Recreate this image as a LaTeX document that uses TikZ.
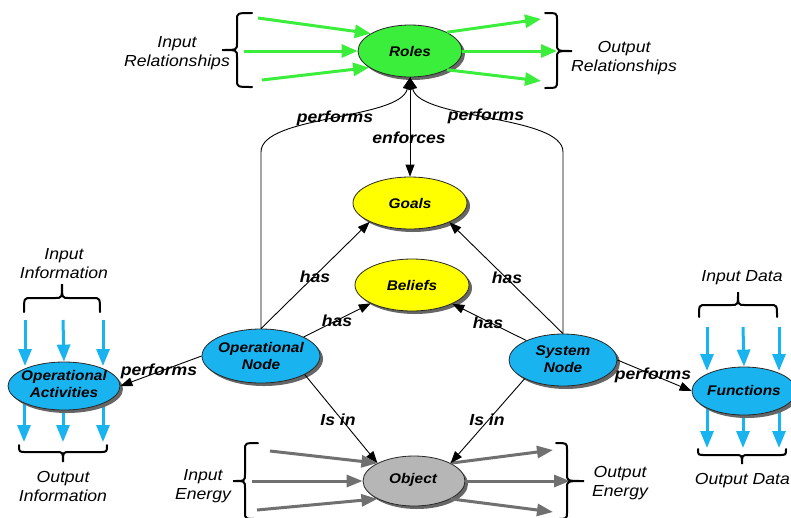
\documentclass[tikz,border=0pt]{standalone}
\usepackage{fontspec}
\setmainfont{Liberation Sans}[FakeStretch=1.1]
\usetikzlibrary{shapes.geometric,arrows.meta,shadows}

\definecolor{rolegreen}{RGB}{60,238,60}
\definecolor{goalyellow}{RGB}{255,255,0}
\definecolor{nodeblue}{RGB}{25,180,240}
\definecolor{flowblue}{RGB}{25,180,240}
\definecolor{objgray}{RGB}{182,182,182}
\definecolor{flowgray}{RGB}{112,112,112}
\definecolor{rim}{RGB}{40,40,40}

% vertical curly brace: x of the ends, x of the spine, x of the tip, y top, y middle, y bottom
\newcommand\CurlyV[6]{%
  \draw[bracestroke] (#1,#4) .. controls (#2,#4) .. (#2,{#4+7}) -- (#2,{#5-7})
    .. controls (#2,#5) .. (#3,#5) .. controls (#2,#5) .. (#2,{#5+7})
    -- (#2,{#6-7}) .. controls (#2,#6) .. (#1,#6);}
% horizontal curly brace: y of the ends, y of the spine, y of the tip, x left, x middle, x right
\newcommand\CurlyH[6]{%
  \draw[bracestroke] (#4,#1) .. controls (#4,#2) .. ({#4+7},#2) -- ({#5-7},#2)
    .. controls (#5,#2) .. (#5,#3) .. controls (#5,#2) .. ({#5+7},#2)
    -- ({#6-7},#2) .. controls (#6,#2) .. (#6,#1);}

\tikzset{
  bubble/.style={ellipse, draw=rim, line width=0.8pt, inner sep=0pt,
    drop shadow={shadow xshift=3pt, shadow yshift=-3pt, fill=black!60, opacity=1}},
  nodetext/.style={font=\fontsize{14}{17}\selectfont\bfseries\itshape, align=center, inner sep=0pt},
  edgetext/.style={font=\fontsize{16}{19}\selectfont\bfseries\itshape, inner sep=0pt},
  bracetext/.style={font=\fontsize{16}{19}\selectfont\itshape, align=center, inner sep=0pt},
  bracestroke/.style={draw=black, line width=2pt, line cap=round},
  link/.style={draw=black, line width=0.9pt, -{Triangle[length=12pt,width=9pt]}},
  greenflow/.style={draw=rolegreen, line width=3pt, -{Triangle[length=16pt,width=13pt]}},
  blueflow/.style={draw=flowblue, line width=3pt, -{Triangle[length=17pt,width=13pt]}},
  grayflow/.style={draw=flowgray, line width=3pt, -{Triangle[length=16pt,width=12pt]}},
}

\begin{document}
\begin{tikzpicture}[x=1pt, y=-1pt]
\fill[white] (0,0) rectangle (791,517);
\useasboundingbox (0,0) rectangle (791,517);

% free ends of the flow arrows
\coordinate (gi1) at (258,18);  \coordinate (gi2) at (244,51);  \coordinate (gi3) at (262,80);
\coordinate (go1) at (541,19);  \coordinate (go2) at (557,51);  \coordinate (go3) at (541,81);
\coordinate (ei1) at (270,451); \coordinate (ei2) at (252,481); \coordinate (ei3) at (257,510);
\coordinate (eo1) at (553,450); \coordinate (eo2) at (570,481); \coordinate (eo3) at (553,512);
\coordinate (ai1) at (25,320);  \coordinate (ai2) at (63,320);  \coordinate (ai3) at (103,320);
\coordinate (at1) at (25,366);  \coordinate (at3) at (103,366);
\coordinate (ao1) at (24,442);  \coordinate (ao2) at (63,442);  \coordinate (ao3) at (103,442);
\coordinate (fi1) at (707,327); \coordinate (fi2) at (743,327); \coordinate (fi3) at (779,327);
\coordinate (ft1) at (707,371); \coordinate (ft3) at (779,371);
\coordinate (fo1) at (707,448); \coordinate (fo2) at (743,448); \coordinate (fo3) at (779,448);

% outgoing flows that emerge from beneath the ellipses
\draw[blueflow] (ao1 |- 0,396) -- (ao1);
\draw[blueflow] (ao2 |- 0,396) -- (ao2);
\draw[blueflow] (ao3 |- 0,396) -- (ao3);
\draw[blueflow] (fo1 |- 0,400) -- (fo1);
\draw[blueflow] (fo2 |- 0,400) -- (fo2);
\draw[blueflow] (fo3 |- 0,400) -- (fo3);

% concept ellipses
\node[bubble, fill=rolegreen,  minimum width=104pt, minimum height=52pt] (roles)   at (410,51)  {};
\node[bubble, fill=goalyellow, minimum width=114pt, minimum height=52pt] (goals)   at (410,203) {};
\node[bubble, fill=goalyellow, minimum width=114pt, minimum height=52pt] (beliefs) at (412,285) {};
\node[bubble, fill=nodeblue,   minimum width=118pt, minimum height=54pt] (opnode)  at (261,356) {};
\node[bubble, fill=nodeblue,   minimum width=108pt, minimum height=52pt] (sysnode) at (563,360) {};
\node[bubble, fill=nodeblue,   minimum width=112pt, minimum height=48pt] (opact)   at (64,386)  {};
\node[bubble, fill=nodeblue,   minimum width=104pt, minimum height=48pt] (func)    at (744,391) {};
\node[bubble, fill=objgray,    minimum width=102pt, minimum height=50pt] (object)  at (414,481) {};

\node[nodetext] (rolesT)   at (roles)   {Roles};
\node[nodetext] (goalsT)   at (goals)   {Goals};
\node[nodetext] (beliefsT) at (beliefs) {Beliefs};
\node[nodetext] (opnodeT)  at (opnode)  {Operational\\Node};
\node[nodetext] (sysnodeT) at (563,359) {System\\Node};
\node[nodetext] (opactT)   at (64,384)  {Operational\\Activities};
\node[nodetext] (funcT)    at (744,390) {Functions};
\node[nodetext] (objectT)  at (413,480) {Object};

% relationships around Roles
\draw[greenflow] (gi1) -- (roles.156);
\draw[greenflow] (gi2) -- (roles.west);
\draw[greenflow] (gi3) -- (roles.202);
\draw[greenflow] (roles.27)  -- (go1);
\draw[greenflow] (roles.east) -- (go2);
\draw[greenflow] (roles.-27) -- (go3);

% energy around Object
\draw[grayflow] (ei1) -- (object.154);
\draw[grayflow] (ei2) -- (object.west);
\draw[grayflow] (ei3) -- (object.206);
\draw[grayflow] (object.26)   -- (eo1);
\draw[grayflow] (object.east) -- (eo2);
\draw[grayflow] (object.-26)  -- (eo3);

% incoming information and data
\draw[blueflow] (ai1) -- (at1);
\draw[blueflow] (ai2) -- (opact.north);
\draw[blueflow] (ai3) -- (at3);
\draw[blueflow] (fi1) -- (ft1);
\draw[blueflow] (fi2) -- (func.north);
\draw[blueflow] (fi3) -- (ft3);

% braces
\CurlyV{252}{237}{222}{13}{50}{87}
\CurlyV{545}{557}{572}{13}{51}{88}
\CurlyV{258}{245}{233}{443}{481}{519}
\CurlyV{556}{567}{584}{443}{481}{519}
\CurlyH{312}{298}{284}{24}{62}{100}
\CurlyH{445}{452}{462}{19}{63}{107}
\CurlyH{317}{305}{292}{699}{738}{777}
\CurlyH{449}{455}{464}{698}{742}{786}

\node[bracetext] (inrel)   at (177,53)  {Input\\Relationships};
\node[bracetext] (outrel)  at (624,58)  {Output\\Relationships};
\node[bracetext] (ininfo)  at (64,264)  {Input\\Information};
\node[bracetext] (outinfo) at (63,486)  {Output\\Information};
\node[bracetext] (indata)  at (742,278) {Input Data};
\node[bracetext, anchor=east] (outdata) at (790,481) {Output Data};
\node[bracetext] (inen)    at (203,486) {Input\\Energy};
\node[bracetext] (outen)   at (620,483) {Output\\Energy};

% relations between concepts
\draw[link] (opnode.north) -- (261,152) .. controls (261,115) and (400,120) .. (roles.south);
\draw[link] (sysnode.north) -- (563,152) .. controls (563,115) and (420,120) .. (roles.south);
\draw[link] (roles.south) -- (goals.north);
\draw[link] (opnode.north) -- (goals.205);
\draw[link] (opnode.24) -- (beliefs.204);
\draw[link] (sysnode.north) -- (goals.334);
\draw[link] (sysnode.152) -- (beliefs.335);
\draw[link] (opnode.west) -- (opact.east);
\draw[link] (sysnode.east) -- (func.west);
\draw[link] (opnode.337) -- (object.154);
\draw[link] (sysnode.206) -- (object.26);

\node[edgetext] (lperf1) at (335,118) {performs};
\node[edgetext] (lperf2) at (486,116) {performs};
\node[edgetext] (lenf)   at (409,138) {enforces};
\node[edgetext] (lhas1)  at (315,277) {has};
\node[edgetext] (lhas2)  at (337,321) {has};
\node[edgetext] (lhas3)  at (507,278) {has};
\node[edgetext] (lhas4)  at (488,323) {has};
\node[edgetext] (lperf3) at (159,371) {performs};
\node[edgetext] (lperf4) at (653,375) {performs};
\node[edgetext] (lisin1) at (338,420) {Is in};
\node[edgetext] (lisin2) at (487,420) {Is in};
\end{tikzpicture}
\end{document}
